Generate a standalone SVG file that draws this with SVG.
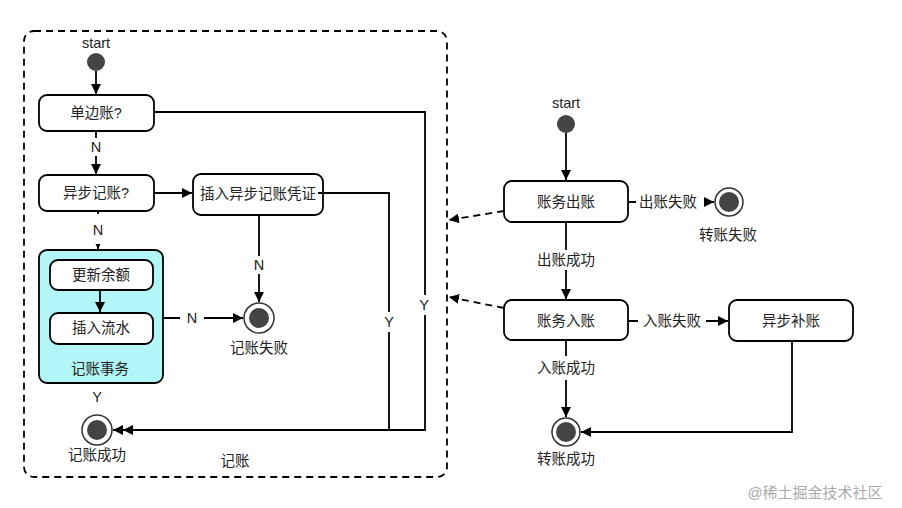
<svg xmlns="http://www.w3.org/2000/svg" width="902" height="508" viewBox="0 0 902 508">
<defs>
<style>
text{font-family:"Liberation Sans","Noto Sans CJK SC",sans-serif;font-size:14.5px;fill:#222;text-anchor:middle;dominant-baseline:central}
.box{fill:#fff;stroke:#000;stroke-width:1.8}
.ln{fill:none;stroke:#000;stroke-width:1.8}
.dash{fill:none;stroke:#000;stroke-width:1.8;stroke-dasharray:7 5}
.dot{fill:#444}
.ring{fill:#fff;stroke:#333;stroke-width:1.5}
.lbl{fill:#fff}
</style>
<marker id="ah" viewBox="0 0 10 10" refX="10" refY="5" markerWidth="10" markerHeight="10" markerUnits="userSpaceOnUse" orient="auto"><path d="M0,0L10,5L0,10z" fill="#000"/></marker>
<marker id="ah2" viewBox="0 0 20 10" refX="20" refY="5" markerWidth="20" markerHeight="10" markerUnits="userSpaceOnUse" orient="auto"><path d="M0,0L10,5L0,10zM10,0L20,5L10,10z" fill="#000"/></marker>
</defs>
<rect width="902" height="508" fill="#fff"/>
<rect x="24" y="31" width="423" height="446" rx="10" class="dash"/>
<text x="235" y="461">记账</text>

<g id="start1"><text x="96" y="43">start</text><circle cx="96" cy="62" r="9" class="dot"/></g>
<g id="single"><rect x="39" y="95" width="115" height="36" rx="8" class="box"/><text x="96" y="113">单边账?</text></g>
<g id="async"><rect x="39" y="175" width="115" height="36" rx="8" class="box"/><text x="96" y="193">异步记账?</text></g>
<g id="voucher"><rect x="193" y="174" width="130" height="41" rx="8" class="box"/><text x="258" y="194">插入异步记账凭证</text></g>
<g id="tx"><rect x="39" y="250" width="124" height="133" rx="8" fill="#b3f6f8" stroke="#000" stroke-width="1.8"/><text x="100" y="369">记账事务</text></g>
<g id="balance"><rect x="50" y="260" width="103" height="30" rx="8" class="box"/><text x="101" y="275">更新余额</text></g>
<g id="flow"><rect x="50" y="313" width="103" height="31" rx="8" class="box"/><text x="101" y="328">插入流水</text></g>
<g id="fail1"><circle cx="259" cy="318" r="15" class="ring"/><circle cx="259" cy="318" r="10" class="dot"/><text x="259" y="348">记账失败</text></g>
<g id="ok1"><circle cx="97" cy="430" r="15" class="ring"/><circle cx="97" cy="430" r="10" class="dot"/><text x="97" y="455">记账成功</text></g>

<g id="start2"><text x="566" y="103">start</text><circle cx="566" cy="124" r="9" class="dot"/></g>
<g id="out"><rect x="504" y="181" width="124" height="41" rx="8" class="box"/><text x="566" y="202">账务出账</text></g>
<g id="fail2"><circle cx="729" cy="202" r="14" class="ring"/><circle cx="729" cy="202" r="10" class="dot"/><text x="728" y="235">转账失败</text></g>
<g id="in"><rect x="504" y="300" width="124" height="40" rx="8" class="box"/><text x="566" y="321">账务入账</text></g>
<g id="fix"><rect x="729" y="300" width="124" height="41" rx="8" class="box"/><text x="791" y="321">异步补账</text></g>
<g id="ok2"><circle cx="566" cy="432" r="14" class="ring"/><circle cx="566" cy="432" r="10" class="dot"/><text x="566" y="459">转账成功</text></g>

<g id="connectors">
<line x1="96" y1="71" x2="96" y2="94" class="ln" marker-end="url(#ah)"/>
<polyline points="154,112 425,112 425,430 113,430" class="ln" marker-end="url(#ah2)"/>
<line x1="96" y1="131" x2="96" y2="174" class="ln" marker-end="url(#ah)"/>
<line x1="154" y1="193" x2="192" y2="193" class="ln" marker-end="url(#ah)"/>
<polyline points="318,193 389,193 389,430" class="ln"/>
<line x1="259" y1="215" x2="259" y2="302" class="ln" marker-end="url(#ah)"/>
<line x1="98" y1="211" x2="98" y2="249" class="ln" marker-end="url(#ah)"/>
<line x1="163" y1="318" x2="243" y2="318" class="ln" marker-end="url(#ah)"/>
<line x1="100" y1="290" x2="100" y2="312" class="ln" marker-end="url(#ah)"/>
<line x1="566" y1="133" x2="566" y2="180" class="ln" marker-end="url(#ah)"/>
<line x1="504" y1="211" x2="449" y2="220" class="dash" marker-end="url(#ah)"/>
<line x1="628" y1="202" x2="714" y2="202" class="ln" marker-end="url(#ah)"/>
<line x1="566" y1="222" x2="566" y2="299" class="ln" marker-end="url(#ah)"/>
<line x1="504" y1="308" x2="449" y2="297" class="dash" marker-end="url(#ah)"/>
<line x1="628" y1="321" x2="728" y2="321" class="ln" marker-end="url(#ah)"/>
<line x1="566" y1="340" x2="566" y2="417" class="ln" marker-end="url(#ah)"/>
<polyline points="792,341 792,432 581,432" class="ln" marker-end="url(#ah)"/>
<rect x="86" y="138" width="20" height="18" class="lbl"/><text x="96" y="147">N</text>
<rect x="88" y="214" width="20" height="30" class="lbl"/><text x="98" y="230">N</text>
<rect x="88" y="389" width="20" height="16" class="lbl"/><text x="97" y="397">Y</text>
<rect x="249" y="256" width="20" height="18" class="lbl"/><text x="259" y="265">N</text>
<rect x="180" y="310" width="24" height="16" class="lbl"/><text x="192" y="318">N</text>
<rect x="379" y="312" width="20" height="20" class="lbl"/><text x="389" y="322">Y</text>
<rect x="415" y="295" width="20" height="20" class="lbl"/><text x="424" y="305">Y</text>
<rect x="636" y="193" width="68" height="18" class="lbl"/><text x="668" y="202">出账失败</text>
<rect x="532" y="250" width="68" height="20" class="lbl"/><text x="566" y="260">出账成功</text>
<rect x="638" y="312" width="68" height="18" class="lbl"/><text x="672" y="321">入账失败</text>
<rect x="532" y="356" width="68" height="24" class="lbl"/><text x="566" y="368">入账成功</text>
</g>

<text x="815" y="492" style="fill:#aaa;font-size:15px">@稀土掘金技术社区</text>
</svg>
